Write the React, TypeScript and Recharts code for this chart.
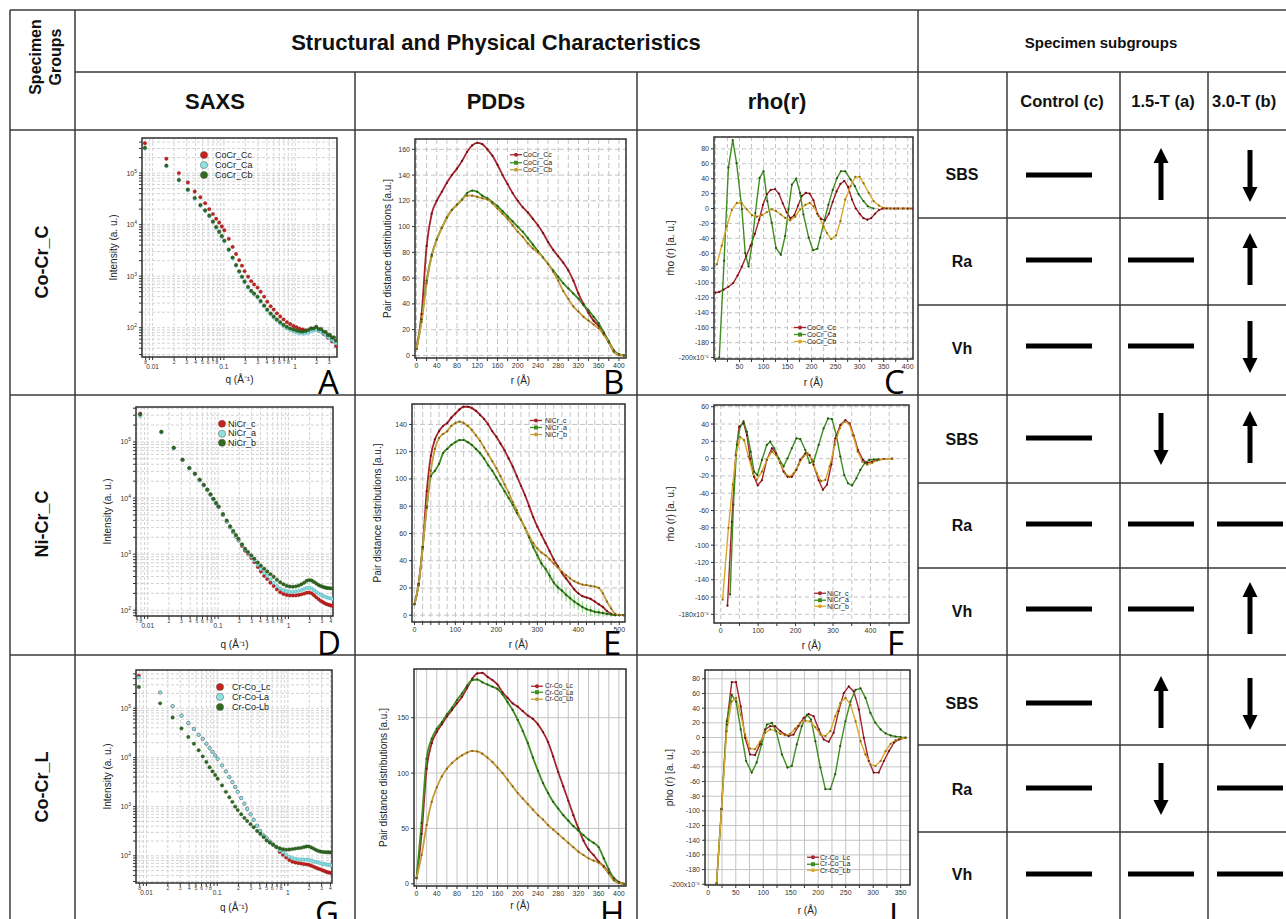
import React from 'react';
import {
  ScatterChart,
  Scatter,
  LineChart,
  Line,
  XAxis,
  YAxis,
  CartesianGrid,
  ReferenceArea,
  ErrorBar,
} from 'recharts';

const FONT = '"Liberation Sans", Arial, Helvetica, sans-serif';
const INK = '#333';

// ---------- table contents ----------
const groupNames = ['Co-Cr_C', 'Ni-Cr_C', 'Co-Cr_L'];
const methodNames = ['SAXS', 'PDDs', 'rho(r)'];
const subgroupNames = ['Control (c)', '1.5-T (a)', '3.0-T (b)'];
const propertyNames = ['SBS', 'Ra', 'Vh'];
// one row per group x property, columns = control, 1.5-T, 3.0-T
const trendRows = [
  ['flat', 'up', 'down'],
  ['flat', 'flat', 'up'],
  ['flat', 'flat', 'down'],
  ['flat', 'down', 'up'],
  ['flat', 'flat', 'flat'],
  ['flat', 'flat', 'up'],
  ['flat', 'up', 'down'],
  ['flat', 'down', 'flat'],
  ['flat', 'flat', 'flat'],
];

// ---------- SAXS (log-log) ----------
const saxsQ = [
  0.0078, 0.0156, 0.0234, 0.0312, 0.039, 0.0468, 0.0546, 0.0624, 0.0702, 0.078,
  0.0858, 0.0936, 0.1014, 0.117, 0.1326, 0.1482, 0.1638, 0.1794, 0.195, 0.2184,
  0.2418, 0.2652, 0.2964, 0.3276, 0.3666, 0.4056, 0.4524, 0.4992, 0.5538, 0.6162,
  0.6864, 0.7644, 0.8502, 0.9438, 1.045, 1.154, 1.271, 1.396, 1.529, 1.67,
  1.818, 1.974, 2.137, 2.309, 2.489, 2.676, 2.871, 3.074, 3.285, 3.504,
  3.73,
];
const saxsQExt = [...saxsQ, 3.96, 4.2];

const coCrCc = [
  380000, 190000, 100000, 66000, 44000, 34000, 26000, 20000, 16000, 13000,
  11000, 9200, 7800, 5300, 3700, 2700, 2050, 1600, 1250, 980,
  800, 690, 600, 500, 400, 320, 260, 225, 190, 165,
  145, 128, 118, 108, 102, 96, 92, 89, 86, 97,
  94, 101, 88, 90, 76, 78, 64, 68, 54, 56,
  44,
];
const coCrCa = [
  300000, 136000, 72000, 46500, 32000, 23300, 18400, 14500, 11100, 8700,
  7100, 5800, 4750, 3200, 2230, 1600, 1210, 950, 765, 600,
  505, 445, 385, 318, 260, 216, 182, 157, 138, 121,
  107, 97, 90, 85, 81, 78, 77, 78, 80, 85,
  90, 91, 88, 83, 78, 72, 66, 62, 58, 54,
  50,
];
const coCrCb = [
  310000, 140000, 74000, 48000, 33000, 24000, 19000, 15000, 11500, 9000,
  7300, 6000, 4900, 3300, 2300, 1650, 1250, 980, 790, 620,
  520, 460, 400, 330, 270, 225, 190, 165, 145, 128,
  114, 104, 97, 92, 88, 85, 84, 86, 90, 96,
  97, 104, 94, 95, 84, 83, 72, 73, 64, 65,
  56,
];

const niCrC = [
  320000, 150000, 78000, 48000, 34000, 27000, 21000, 17000, 14000, 11500,
  9500, 8000, 6900, 5000, 3800, 3000, 2450, 2050, 1750, 1400,
  1150, 1020, 850, 720, 590, 490, 410, 360, 310, 270,
  235, 210, 195, 187, 184, 183, 184, 187, 192, 198,
  205, 207, 200, 185, 170, 158, 147, 140, 133, 128,
  125, 122, 120,
];
const niCrA = [
  290000, 148000, 77000, 47500, 33500, 26500, 20700, 16800, 13800, 11400,
  9450, 8000, 6900, 5000, 3800, 3000, 2470, 2070, 1770, 1450,
  1200, 1060, 900, 770, 640, 540, 460, 410, 355, 310,
  270, 245, 228, 218, 214, 213, 216, 222, 230, 240,
  250, 252, 245, 228, 212, 200, 190, 182, 175, 170,
  166, 163, 160,
];
const niCrB = [
  310000, 152000, 79000, 48500, 34500, 27200, 21300, 17200, 14200, 11700,
  9700, 8200, 7100, 5200, 4000, 3150, 2600, 2200, 1880, 1500,
  1250, 1100, 950, 830, 710, 620, 550, 490, 440, 395,
  350, 315, 290, 272, 265, 262, 266, 275, 290, 310,
  335, 345, 340, 320, 300, 282, 270, 262, 255, 250,
  248, 246, 245,
];

const crCoLc = [
  460000, 210000, 110000, 71000, 50000, 38000, 29000, 24000, 19000, 15500,
  13000, 11000, 9400, 6900, 5200, 4000, 3150, 2500, 2000, 1500,
  1150, 900, 700, 540, 410, 320, 260, 230, 195, 170,
  150, 120, 105, 92, 82, 76, 73, 71, 70, 68,
  67, 66, 63, 60, 57, 55, 53, 51, 49, 47,
  46, 45, 44,
];
const crCoLa = [
  420000, 210000, 110000, 71000, 50000, 38000, 29000, 24000, 19000, 15500,
  13000, 11000, 9400, 6900, 5200, 4000, 3150, 2500, 2000, 1500,
  1150, 900, 700, 540, 410, 320, 260, 230, 195, 170,
  150, 130, 118, 105, 96, 90, 87, 84, 84, 84,
  83, 83, 80, 77, 75, 73, 71, 69, 68, 67,
  66, 65, 64,
];
const crCoLb = [
  270000, 126000, 65000, 39000, 26000, 19000, 14000, 10500, 8100, 6300,
  5200, 4400, 3700, 2700, 2000, 1550, 1250, 1000, 850, 700,
  590, 510, 440, 380, 320, 280, 240, 205, 185, 168,
  152, 142, 136, 133, 134, 137, 140, 143, 145, 150,
  155, 155, 148, 140, 132, 126, 122, 120, 119, 118,
  118, 117, 116,
];

const saxsXTicks = [
  0.007, 0.008, 0.009, 0.01, 0.02, 0.03, 0.04, 0.05, 0.06, 0.07, 0.08, 0.09,
  0.1, 0.2, 0.3, 0.4, 0.5, 0.6, 0.7, 0.8, 0.9, 1, 2, 3, 4,
];
const saxsYTicks = [
  30, 40, 50, 60, 70, 80, 90, 100, 200, 300, 400, 500, 600, 700, 800, 900,
  1000, 2000, 3000, 4000, 5000, 6000, 7000, 8000, 9000,
  10000, 20000, 30000, 40000, 50000, 60000, 70000, 80000, 90000,
  100000, 200000, 300000, 400000, 500000,
];

// ---------- PDDs ----------
const pddR400 = [
  0, 10, 20, 30, 40, 50, 60, 70, 80, 90, 100, 110, 120, 130, 140, 150, 160, 170, 180, 190,
  200, 210, 220, 230, 240, 250, 260, 270, 280, 290, 300, 310, 320, 330, 340, 350, 360, 370,
  380, 390, 400, 410,
];
const pddR500 = [...pddR400, 420, 430, 440, 450, 460, 470, 480, 490, 500, 510];

const pddCoCrCc = [
  5, 32, 85, 110, 120, 127, 134, 140, 145, 151, 158, 163, 165, 164, 160, 155, 148, 140, 133, 126,
  120, 115, 111, 106, 101, 95, 88, 82, 77, 72, 66, 58, 48, 40, 33, 27, 23, 17, 10, 3, 0.5, 0,
];
const pddCoCrCa = [
  5, 28, 58, 78, 90, 99, 107, 113, 117, 121, 126, 128, 127, 124, 122, 119, 116, 112, 108, 104,
  100, 96, 91, 86, 81, 76, 71, 66, 61, 56, 52, 48, 44, 39, 35, 30, 25, 18, 11, 4, 1, 0,
];
const pddCoCrCb = [
  5, 26, 56, 77, 90, 99, 107, 113, 117, 121, 124, 124, 123, 122, 121, 118, 114, 110, 106, 101,
  96, 92, 87, 83, 80, 76, 71, 65, 58, 50, 44, 38, 34, 30, 27, 24, 21, 16, 10, 3, 0.5, 0,
];

const pddNiCrC = [
  8, 23, 50, 91, 117, 129, 135, 139, 141, 145, 148, 151, 153, 153, 152, 150, 147, 144, 140, 135,
  131, 126, 121, 115, 109, 102, 95, 88, 80, 72, 65, 59, 53, 47, 41, 36, 31, 27, 23, 19,
  16, 14, 13, 12, 10, 8, 6, 3, 1, 0, 0, 0,
];
const pddNiCrA = [
  8, 22, 50, 79, 102, 106, 111, 119, 122, 125, 127, 128.5, 128.5, 127, 125, 122, 119, 115, 110, 106,
  101, 96, 91, 86, 81, 75, 70, 64, 57, 50, 44, 38, 34, 29, 24, 20.5, 18, 15, 12.5, 10,
  8, 6, 4.5, 3.5, 2.5, 2, 1.5, 1, 0.5, 0, 0, 0,
];
// spread of the NiCr_a curve (light green band in the picture)
const pddNiCrAErr = [
  0, 0, 0, 0, 0, 0, 0, 0, 0, 0, 0, 0, 0, 0, 0, 0, 0, 0, 0, 0,
  0, 0, 0, 0, 0, 0, 0, 0, 0, 2, 3, 4, 4, 5, 5, 5, 5, 5, 5, 5,
  4.5, 4, 4, 3.5, 3, 3, 2.5, 2, 1.5, 0, 0, 0,
];
const pddNiCrB = [
  8, 22, 49, 80, 106, 122, 130, 133, 135, 139, 141, 142, 141, 139, 136, 132, 128, 123, 118, 113,
  108, 102, 96, 90, 83, 77, 70, 64, 58, 53, 49, 46, 44, 41, 38, 35, 32, 29.5, 27, 25,
  23.5, 22.5, 22, 21.5, 21, 20, 16, 10, 5, 1, 0, 0,
];

const pddCrCoLc = [
  5, 45, 104, 127, 137, 144, 151, 157, 163, 169, 177, 185, 190, 190.5, 187, 184, 180, 173, 168, 163,
  160, 156, 152, 149, 144, 137, 128, 115, 101, 88, 75, 62, 50, 39, 31, 26, 20, 16, 10, 5, 1.5, 0,
];
const pddCrCoLa = [
  5, 55, 113, 131, 140, 146, 153, 159, 166, 172, 179, 184, 184.5, 182, 180, 178, 176, 171, 164, 157,
  148, 138, 127, 114, 102, 91, 82, 74, 68, 62, 57, 52, 48, 44, 40, 37, 33, 23, 13, 5, 1, 0,
];
const pddCrCoLb = [
  5, 26, 53, 74, 87, 97, 104, 109, 113, 116, 118.5, 120, 119.5, 117.5, 114, 110, 105, 100, 94, 88,
  82, 77, 72, 67, 62, 58, 53, 49, 45, 41, 37, 33, 29, 26, 23, 21, 19, 15, 9, 3, 0.5, 0,
];

const pddTicks400 = [0, 20, 40, 60, 80, 100, 120, 140, 160, 180, 200, 220, 240, 260, 280, 300, 320, 340, 360, 380, 400];
const pddTicks500 = [...pddTicks400, 420, 440, 460, 480, 500];
const pddYTicksB = [0, 20, 40, 60, 80, 100, 120, 140, 160];
const pddYTicksE = [0, 20, 40, 60, 80, 100, 120, 140];
const pddYTicksH = [0, 50, 100, 150];

// ---------- rho(r) ----------
const rhoCoCrCcR = [
  0, 8, 17, 27, 37, 46, 55, 64, 73, 82, 91, 99, 107, 115, 124, 132, 140, 148, 156, 164,
  172, 180, 188, 196, 204, 212, 220, 228, 236, 244, 252, 260, 268, 276, 284, 292, 300, 308, 316, 324,
  332, 340, 348, 356, 364, 372, 380, 390, 400, 411,
];
const rhoCoCrCc = [
  -113, -112, -109, -105, -100, -90, -78, -64, -50, -34, -15, 5, 19, 25, 26, 20, 7, -5, -13, -9,
  4, 17, 21, 20, 11, -7, -14, -16, -7, 9, 23, 33, 37, 29, 12, 0, -7, -13, -15, -13,
  -7, -2, 0, 0, 0, 0, 0, 0, 0, 0,
];
const rhoCoCrCaR = [
  8, 18, 27, 36, 44, 55, 62, 69, 76, 83, 92, 100, 108, 117, 126, 136, 145, 152, 159, 168,
  176, 183, 194, 203, 212, 218, 227, 235, 244, 253, 261, 270, 281, 290, 298, 308, 317, 329,
];
const rhoCoCrCa = [
  -200, -70, 55, 92, 61, -1, -60, -78, -48, -6, 41, 50, 10, -19, -53, -62, -37, -1, 32, 40,
  21, -8, -39, -56, -54, -39, -15, 5, 25, 41, 50, 50, 39, 30, 19, 10, 3, 0,
];
const rhoCoCrCbR = [
  3, 13, 23.6, 34, 44.4, 55, 65, 76, 86, 96.5, 107, 117, 126, 136, 145, 155.5, 166, 176, 187, 196,
  204, 214.6, 225, 232, 241, 251, 260, 270, 281, 291, 300, 308, 319, 329, 340, 350, 364, 378, 392, 406,
];
const rhoCoCrCb = [
  -75, -50, -24, -2, 7.5, 7, -1, -9, -11, -9, -5, -1, -3.6, -8, -12.6, -16, -11, -1.4, 5, 7.5,
  3, -10, -24, -33, -41, -36, -17, 12, 30, 42.5, 42.5, 34, 21, 10, 4, 1, 0, 0, 0, 0,
];

const rhoNiCrCR = [
  18, 29.5, 40, 49, 61, 70, 78.6, 89, 99, 110, 123, 136.6, 148, 159, 168, 178.6, 190, 202, 212.5, 226,
  237.5, 248, 261.6, 273, 284, 295.5, 306, 319.6, 333, 344.6, 355, 367, 380, 391, 404.5, 418, 436, 458,
];
const rhoNiCrC = [
  -170, -73, 4, 37, 41, 27, 0, -21, -31, -25, -1.5, 12, 6, -5, -15, -21, -21, -13, -1.5, 6,
  4, -7, -25, -36, -30, -7, 23.5, 39, 44.6, 40.8, 27, 10, -1.5, -5, -3.5, -1.5, -0.4, 0,
];
const rhoNiCrAR = [
  25, 34, 43, 52, 61, 70, 80, 89, 98, 110, 123, 132, 143, 154.5, 168, 178.6, 190, 202, 212.5, 226,
  237.5, 248, 261.6, 275, 286.6, 297, 309, 319.6, 330, 340, 351, 362.5, 373, 385, 397, 409, 422,
];
const rhoNiCrA = [
  -157, -53, 16, 37, 43, 31, 8, -15, -19, -1.5, 15.8, 19.6, 12, 0.4, -9, 0.4, 12, 23.5, 22.7, 10,
  -5, -3.5, 15.8, 35, 46.5, 45.8, 27, 2.3, -19, -28.5, -31, -22.7, -13, -5, -1.5, -0.8, -0.8,
];
const rhoNiCrBR = [
  5, 20.5, 32, 41, 52, 62.5, 74, 86, 96, 110, 123, 136.6, 148, 159, 172, 184, 194.6, 208, 221, 232,
  244, 257, 268, 279.5, 291, 304.5, 318, 330, 342, 353.6, 366, 378.6, 391, 404.5, 418, 436, 458,
];
const rhoNiCrB = [
  -163, -80, -30, 4, 25, 21.5, 2.3, -17, -24.6, -15, -1.5, 8, 4, -5, -17, -21, -17, -7, 2.3, 6,
  -1.5, -17, -26, -24.6, -9, 15.8, 35, 42.7, 40.8, 27, 8, -3.5, -7, -5, -2.3, -0.4, 0,
];

const rhoCrCoLcR = [
  15, 24, 33.5, 42.6, 50.5, 59, 67, 76, 85, 94, 103.5, 112.6, 121.7, 131, 140, 146, 155, 164, 173.5, 182.6,
  191.7, 201, 210, 219, 228, 237, 246.5, 255.6, 264.8, 274, 283, 292, 301, 310, 319.5, 328.7, 337.8, 347, 359,
];
const rhoCrCoLc = [
  -199, -97.5, 17.7, 75.5, 75.5, 42.5, -0.4, -23, -24, -9.4, 11, 15.4, 15.4, 8.6, 4, 1.9, 4, 15.4, 26.7, 32,
  29, 11, -2.7, -5.8, 6.4, 35.7, 60.6, 69.6, 62.8, 38, -0.4, -32, -47.8, -47.8, -32, -18.5, -7, -2.7, -0.4,
];
const rhoCrCoLaR = [
  15, 24, 33.5, 42.6, 50.5, 59, 68.8, 79, 88, 97, 106.5, 115.6, 123.5, 134, 144, 152, 161, 170, 179.5, 187,
  194.8, 204, 213, 222, 231, 240, 249.5, 258.7, 268, 277, 286, 295, 304, 313.5, 322.6, 331.7, 340.8, 350, 359,
];
const rhoCrCoLa = [
  -199, -97.5, 22, 58, 49, 11, -32, -47.8, -34, -9.4, 17.7, 20, 8.6, -23, -41, -38.8, -9.4, 15.4, 31, 24.4,
  -5, -41, -70.4, -70.4, -50, -11.7, 22, 49, 65, 67, 54, 33.5, 20, 11, 5.5, 2.8, 1.4, 0.5, 0,
];
const rhoCrCoLbR = [
  15, 24, 33.5, 42.6, 50.5, 59, 67, 76, 85, 94, 103.5, 112.6, 121.7, 131, 140, 149, 158, 167, 176.5, 185.6,
  194.8, 204, 213, 222, 231, 240, 249.5, 258.7, 268, 277, 286, 295, 304, 313.5, 322.6, 331.7, 340.8, 350, 359,
];
const rhoCrCoLb = [
  -199, -97.5, 8.6, 49, 54, 31, 4, -15, -16, -5.8, 6.4, 11, 9.5, 5, 3, 5, 12, 20, 23, 22,
  14, 4, 1.9, 8.6, 29, 47, 54, 44.8, 22, -5, -23, -36.5, -38.8, -32, -18.5, -8.5, -3.6, -1.3, -0.4,
];

const rhoXTicks400 = [0, 25, 50, 75, 100, 125, 150, 175, 200, 225, 250, 275, 300, 325, 350, 375, 400];
const rhoXTicks450 = [0, 50, 100, 150, 200, 250, 300, 350, 400, 450];
const rhoXTicks350 = [0, 25, 50, 75, 100, 125, 150, 175, 200, 225, 250, 275, 300, 325, 350];
const rhoYTicks200 = [-200, -180, -160, -140, -120, -100, -80, -60, -40, -20, 0, 20, 40, 60, 80];
const rhoYTicks180 = [-180, -160, -140, -120, -100, -80, -60, -40, -20, 0, 20, 40, 60];

// ---------- colours ----------
const RED = { line: '#a5242c', dot: '#6a1015' };
const GREEN = { line: '#3f8d22', dot: '#1f5410' };
const GOLD = { line: '#d9a92c', dot: '#8a6a14' };
const TAN = { line: '#c69c3c', dot: '#7d6018' };
const SAXS_RED = { fill: '#c9201c', stroke: '#7a100e' };
const SAXS_CYAN = { fill: '#8fe2e2', stroke: '#3b9aa6' };
const SAXS_GREEN = { fill: '#2f6a1e', stroke: '#1b4211' };

type Cell = { x: number; y: number; w: number; h: number };
type Box = { l: number; r: number; t: number; b: number };

function layout(cell: Cell, plot: Box) {
  return {
    margin: { top: plot.t - cell.y, right: cell.x + cell.w - plot.r, left: 0, bottom: 0 },
    yW: plot.l - cell.x,
    xH: cell.y + cell.h - plot.b,
  };
}

const LogXTick = (props: any) => {
  const { x, y, payload } = props;
  const v = payload.value as number;
  const e = Math.floor(Math.log10(v) + 1e-9);
  const d = Math.round(v / Math.pow(10, e));
  const major = d === 1;
  const label = major ? String(v) : d <= 8 ? String(d) : '';
  return (
    <text
      x={x}
      y={major ? y + 7 : y + 2}
      textAnchor="middle"
      fontSize={major ? 6.5 : 5}
      fill={INK}
      fontFamily={FONT}
    >
      {label}
    </text>
  );
};

const LogYTick = (props: any) => {
  const { x, y, payload } = props;
  const lg = Math.log10(payload.value);
  const e = Math.round(lg);
  if (Math.abs(lg - e) > 1e-6) return <g />;
  return (
    <text x={x} y={y + 2.5} textAnchor="end" fontSize={7} fill={INK} fontFamily={FONT}>
      10<tspan dy={-3} fontSize={5}>{e}</tspan>
    </text>
  );
};

type LegendItem = { name: string; color: string; marker: string };

function LegendBox({ x, y, rowH, fontSize, items, iconW, gap }: any) {
  return (
    <div
      style={{
        position: 'absolute',
        left: x,
        top: y,
        fontFamily: FONT,
        fontSize,
        color: '#222',
        whiteSpace: 'nowrap',
      }}
    >
      {items.map((it: LegendItem) => (
        <div key={it.name} style={{ display: 'flex', alignItems: 'center', height: rowH }}>
          <svg width={iconW} height={rowH} style={{ marginRight: gap, flexShrink: 0 }}>
            {it.marker === 'big' ? (
              <circle cx={iconW / 2} cy={rowH / 2} r={3.6} fill={it.color} stroke="#555" strokeWidth={0.5} />
            ) : (
              <g>
                <line x1={0} x2={iconW} y1={rowH / 2} y2={rowH / 2} stroke={it.color} strokeWidth={1.3} />
                {it.marker === 'square' ? (
                  <rect x={iconW / 2 - 2} y={rowH / 2 - 2} width={4} height={4} fill={it.color} />
                ) : (
                  <circle cx={iconW / 2} cy={rowH / 2} r={2} fill={it.color} />
                )}
              </g>
            )}
          </svg>
          <span>{it.name}</span>
        </div>
      ))}
    </div>
  );
}

type SaxsSeries = { name: string; q: number[]; v: number[]; fill: string; stroke: string };

function SaxsPanel(p: {
  cell: Cell;
  plot: Box;
  xDomain: [number, number];
  yDomain: [number, number];
  yTitleOffset: number;
  xTitleOffset: number;
  series: SaxsSeries[];
  legend: any;
}) {
  const { margin, yW, xH } = layout(p.cell, p.plot);
  const xt = saxsXTicks.filter((v) => v >= p.xDomain[0] && v <= p.xDomain[1]);
  const yt = saxsYTicks.filter((v) => v >= p.yDomain[0] && v <= p.yDomain[1]);
  return (
    <div style={{ position: 'absolute', left: p.cell.x, top: p.cell.y, width: p.cell.w, height: p.cell.h }}>
      <ScatterChart width={p.cell.w} height={p.cell.h} margin={margin}>
        <CartesianGrid stroke="#d3d3d3" strokeDasharray="3 2" />
        <XAxis
          type="number"
          dataKey="q"
          scale="log"
          domain={p.xDomain}
          allowDataOverflow
          ticks={xt}
          interval={0}
          tick={(t: any) => <LogXTick {...t} />}
          tickSize={3}
          height={xH}
          axisLine={false}
          stroke={INK}
          label={{ value: 'q (Å⁻¹)', position: 'insideBottom', offset: p.xTitleOffset, fontSize: 10, fill: '#222' }}
        />
        <YAxis
          type="number"
          dataKey="I"
          scale="log"
          domain={p.yDomain}
          allowDataOverflow
          ticks={yt}
          interval={0}
          tick={(t: any) => <LogYTick {...t} />}
          tickSize={3}
          width={yW}
          axisLine={false}
          stroke={INK}
          label={{
            value: 'Intensity (a. u.)',
            angle: -90,
            position: 'insideLeft',
            offset: p.yTitleOffset,
            fontSize: 10,
            fill: '#222',
            style: { textAnchor: 'middle' },
          }}
        />
        {p.series.map((s) => (
          <Scatter
            key={s.name}
            name={s.name}
            data={s.q.map((q, i) => ({ q, I: s.v[i] }))}
            isAnimationActive={false}
            shape={(d: any) => (
              <circle cx={d.cx} cy={d.cy} r={1.7} fill={s.fill} stroke={s.stroke} strokeWidth={0.4} />
            )}
          />
        ))}
        <ReferenceArea
          x1={p.xDomain[0]}
          x2={p.xDomain[1]}
          y1={p.yDomain[0]}
          y2={p.yDomain[1]}
          fill="none"
          fillOpacity={0}
          stroke={INK}
          strokeWidth={1.5}
          ifOverflow="visible"
        />
      </ScatterChart>
      <LegendBox
        {...p.legend}
        iconW={10}
        items={p.series.map((s) => ({ name: s.name, color: s.fill, marker: 'big' }))}
      />
    </div>
  );
}

type CurveSeries = {
  name: string;
  r: number[];
  v: number[];
  err?: number[];
  color: string;
  dot: string;
  marker: string;
};

function CurvePanel(p: {
  cell: Cell;
  plot: Box;
  xDomain: [number, number];
  yDomain: [number, number];
  xTicks: number[];
  xLabelStep: number;
  showZero: boolean;
  yTicks: number[];
  yUnitOnFirst: boolean;
  yTitle: string;
  yTitleOffset: number;
  xTitleOffset: number;
  series: CurveSeries[];
  legend: any;
  smooth: boolean;
  strokeW: number;
  gridDash: string;
}) {
  const { margin, yW, xH } = layout(p.cell, p.plot);
  const fmtX = (v: number) => (v % p.xLabelStep === 0 && (p.showZero || v !== 0) ? String(v) : '');
  const fmtY = (v: number) => (p.yUnitOnFirst && v === p.yTicks[0] ? `${v}x10⁻⁶` : String(v));
  return (
    <div style={{ position: 'absolute', left: p.cell.x, top: p.cell.y, width: p.cell.w, height: p.cell.h }}>
      <LineChart width={p.cell.w} height={p.cell.h} margin={margin}>
        <CartesianGrid stroke="#c4c4c4" strokeDasharray={p.gridDash} />
        <XAxis
          type="number"
          dataKey="x"
          domain={p.xDomain}
          allowDataOverflow
          ticks={p.xTicks}
          interval={0}
          tickFormatter={fmtX}
          tick={{ fontSize: 7, fill: INK, fontFamily: FONT }}
          tickSize={3}
          height={xH}
          axisLine={false}
          stroke={INK}
          label={{ value: 'r (Å)', position: 'insideBottom', offset: p.xTitleOffset, fontSize: 10, fill: '#222' }}
        />
        <YAxis
          type="number"
          domain={p.yDomain}
          allowDataOverflow
          ticks={p.yTicks}
          interval={0}
          tickFormatter={fmtY}
          tick={{ fontSize: 7, fill: INK, fontFamily: FONT }}
          tickSize={3}
          width={yW}
          axisLine={false}
          stroke={INK}
          label={{
            value: p.yTitle,
            angle: -90,
            position: 'insideLeft',
            offset: p.yTitleOffset,
            fontSize: 10,
            fill: '#222',
            style: { textAnchor: 'middle' },
          }}
        />
        {p.series.map((s) => (
          <Line
            key={s.name}
            name={s.name}
            data={s.r.map((x, i) => ({ x, y: s.v[i], err: s.err ? s.err[i] : 0 }))}
            dataKey="y"
            type={p.smooth ? 'monotone' : 'linear'}
            stroke={s.color}
            strokeWidth={p.strokeW}
            dot={{ r: 1.1, fill: s.dot, stroke: 'none' }}
            activeDot={false}
            isAnimationActive={false}
          >
            {s.err ? (
              <ErrorBar dataKey="err" direction="y" width={0} stroke="#9fd598" strokeWidth={1.2} />
            ) : null}
          </Line>
        ))}
        <ReferenceArea
          x1={p.xDomain[0]}
          x2={p.xDomain[1]}
          y1={p.yDomain[0]}
          y2={p.yDomain[1]}
          fill="none"
          fillOpacity={0}
          stroke={INK}
          strokeWidth={1.5}
          ifOverflow="visible"
        />
      </LineChart>
      <LegendBox
        {...p.legend}
        iconW={12}
        items={p.series.map((s) => ({ name: s.name, color: s.color, marker: s.marker }))}
      />
    </div>
  );
}

function Trend({ kind, cx, cy }: { kind: string; cx: number; cy: number }) {
  if (kind === 'flat') return <rect x={cx - 33} y={cy - 2.5} width={66} height={5} fill="#000" />;
  const s = kind === 'up' ? -1 : 1;
  const tail = cy - s * 25;
  const base = cy + s * 12;
  return (
    <g fill="#000">
      <rect x={cx - 2.5} y={Math.min(tail, base)} width={5} height={Math.abs(base - tail)} />
      <polygon points={`${cx},${cy + s * 27} ${cx - 7.5},${base} ${cx + 7.5},${base}`} />
    </g>
  );
}

const colLines = [10, 75, 918];
const innerColLines = [355, 637, 1007, 1120, 1208];
const rowLines = [10, 130, 395, 655];
const subRowLines = [218, 305, 483, 568, 745, 832];
const propertyY = [174, 261, 348, 439, 525, 611, 703, 789, 874];
const trendY = [175, 260, 346, 438, 524, 609, 703, 788, 874];
const trendX = [1059, 1161, 1250];
const letters = [
  { t: 'A', x: 318, y: 394 },
  { t: 'B', x: 603, y: 394 },
  { t: 'C', x: 884, y: 394 },
  { t: 'D', x: 317, y: 655 },
  { t: 'E', x: 603, y: 655 },
  { t: 'F', x: 887, y: 655 },
  { t: 'G', x: 315, y: 925 },
  { t: 'H', x: 600, y: 925 },
  { t: 'I', x: 889, y: 927 },
];

function TableFrame() {
  const stroke = '#3a3a3a';
  return (
    <svg width={1286} height={919} style={{ position: 'absolute', left: 0, top: 0 }} fontFamily={FONT}>
      {rowLines.map((y) => (
        <line key={'r' + y} x1={10} x2={1286} y1={y} y2={y} stroke={stroke} strokeWidth={1.5} />
      ))}
      <line x1={75} x2={1286} y1={72} y2={72} stroke={stroke} strokeWidth={1.5} />
      {subRowLines.map((y) => (
        <line key={'s' + y} x1={918} x2={1286} y1={y} y2={y} stroke={stroke} strokeWidth={1.5} />
      ))}
      {colLines.map((x) => (
        <line key={'c' + x} x1={x} x2={x} y1={10} y2={919} stroke={stroke} strokeWidth={1.5} />
      ))}
      {innerColLines.map((x) => (
        <line key={'i' + x} x1={x} x2={x} y1={72} y2={919} stroke={stroke} strokeWidth={1.5} />
      ))}

      <g fontWeight="bold" fill="#111" textAnchor="middle" dominantBaseline="central">
        <text x={35} y={57} fontSize={16} transform="rotate(-90 35 57)">Specimen</text>
        <text x={55} y={57} fontSize={16} transform="rotate(-90 55 57)">Groups</text>
        <text x={496} y={42} fontSize={22}>Structural and Physical Characteristics</text>
        <text x={1101} y={42} fontSize={15}>Specimen subgroups</text>
        {methodNames.map((m, i) => (
          <text key={m} x={[215, 496, 777][i]} y={101} fontSize={22}>{m}</text>
        ))}
        <text x={1062} y={101} fontSize={16.5}>{subgroupNames[0]}</text>
        <text x={1163} y={101} fontSize={16.5}>{subgroupNames[1]}</text>
        <text x={1212} y={101} fontSize={16.5} textAnchor="start">{subgroupNames[2]}</text>
        {groupNames.map((g, i) => {
          const cy = [262, 524, 787][i];
          return (
            <text key={g} x={42} y={cy} fontSize={18} transform={`rotate(-90 42 ${cy})`}>{g}</text>
          );
        })}
        {propertyY.map((y, i) => (
          <text key={'p' + i} x={962} y={y} fontSize={16}>{propertyNames[i % 3]}</text>
        ))}
      </g>

      {trendRows.map((row, i) =>
        row.map((k, j) => <Trend key={`t${i}-${j}`} kind={k} cx={trendX[j]} cy={trendY[i]} />)
      )}

      {letters.map((l) => (
        <text key={l.t} x={l.x} y={l.y} fontSize={33} fontFamily='"Open Sans", "DejaVu Sans", sans-serif' fill="#000">
          {l.t}
        </text>
      ))}
    </svg>
  );
}

export default function App() {
  return (
    <div
      style={{
        position: 'absolute',
        left: 0,
        top: 0,
        width: 1286,
        height: 919,
        overflow: 'hidden',
        background: '#fff',
        fontFamily: FONT,
      }}
    >
      <TableFrame />

      {/* A */}
      <SaxsPanel
        cell={{ x: 75, y: 130, w: 280, h: 265 }}
        plot={{ l: 142, r: 337, t: 138, b: 357 }}
        xDomain={[0.0071, 3.86]}
        yDomain={[27, 480000]}
        yTitleOffset={38}
        xTitleOffset={12}
        legend={{ x: 124, y: 20, rowH: 10, fontSize: 9, gap: 6 }}
        series={[
          { name: 'CoCr_Cc', q: saxsQ, v: coCrCc, ...SAXS_RED },
          { name: 'CoCr_Ca', q: saxsQ, v: coCrCa, ...SAXS_CYAN },
          { name: 'CoCr_Cb', q: saxsQ, v: coCrCb, ...SAXS_GREEN },
        ]}
      />
      {/* D */}
      <SaxsPanel
        cell={{ x: 75, y: 395, w: 280, h: 260 }}
        plot={{ l: 136, r: 333, t: 407, b: 616 }}
        xDomain={[0.0068, 4.3]}
        yDomain={[79, 420000]}
        yTitleOffset={32}
        xTitleOffset={7}
        legend={{ x: 142, y: 24, rowH: 9.5, fontSize: 9, gap: 1 }}
        series={[
          { name: 'NiCr_c', q: saxsQExt, v: niCrC, ...SAXS_RED },
          { name: 'NiCr_a', q: saxsQExt, v: niCrA, ...SAXS_CYAN },
          { name: 'NiCr_b', q: saxsQExt, v: niCrB, ...SAXS_GREEN },
        ]}
      />
      {/* G */}
      <SaxsPanel
        cell={{ x: 75, y: 655, w: 280, h: 264 }}
        plot={{ l: 136, r: 332, t: 670, b: 883 }}
        xDomain={[0.0071, 4.2]}
        yDomain={[28, 600000]}
        yTitleOffset={32}
        xTitleOffset={8}
        legend={{ x: 140, y: 27, rowH: 10, fontSize: 9, gap: 7 }}
        series={[
          { name: 'Cr-Co_Lc', q: saxsQExt, v: crCoLc, ...SAXS_RED },
          { name: 'Cr-Co-La', q: saxsQExt, v: crCoLa, ...SAXS_CYAN },
          { name: 'Cr-Co-Lb', q: saxsQExt, v: crCoLb, ...SAXS_GREEN },
        ]}
      />

      {/* B */}
      <CurvePanel
        cell={{ x: 355, y: 130, w: 282, h: 265 }}
        plot={{ l: 415, r: 626, t: 139, b: 358 }}
        xDomain={[-3, 414]}
        yDomain={[-2, 168]}
        xTicks={pddTicks400}
        xLabelStep={40}
        showZero
        yTicks={pddYTicksB}
        yUnitOnFirst={false}
        yTitle="Pair distance distributions [a.u.]"
        yTitleOffset={32}
        xTitleOffset={11}
        smooth
        strokeW={1.8}
        gridDash="5 3"
        legend={{ x: 155, y: 21, rowH: 7.5, fontSize: 7, gap: 1 }}
        series={[
          { name: 'CoCr_Cc', r: pddR400, v: pddCoCrCc, color: RED.line, dot: RED.dot, marker: 'circle' },
          { name: 'CoCr_Ca', r: pddR400, v: pddCoCrCa, color: GREEN.line, dot: GREEN.dot, marker: 'square' },
          { name: 'CoCr_Cb', r: pddR400, v: pddCoCrCb, color: TAN.line, dot: TAN.dot, marker: 'circle' },
        ]}
      />
      {/* E */}
      <CurvePanel
        cell={{ x: 355, y: 395, w: 282, h: 260 }}
        plot={{ l: 412, r: 625, t: 404, b: 622 }}
        xDomain={[-6, 514]}
        yDomain={[-5, 155]}
        xTicks={pddTicks500}
        xLabelStep={100}
        showZero
        yTicks={pddYTicksE}
        yUnitOnFirst={false}
        yTitle="Pair distance distributions [a.u.]"
        yTitleOffset={22}
        xTitleOffset={7}
        smooth
        strokeW={1.8}
        gridDash="5 3"
        legend={{ x: 175, y: 21.5, rowH: 7, fontSize: 7, gap: 3 }}
        series={[
          { name: 'NiCr_c', r: pddR500, v: pddNiCrC, color: RED.line, dot: RED.dot, marker: 'circle' },
          {
            name: 'NiCr_a',
            r: pddR500,
            v: pddNiCrA,
            err: pddNiCrAErr,
            color: GREEN.line,
            dot: GREEN.dot,
            marker: 'square',
          },
          { name: 'NiCr_b', r: pddR500, v: pddNiCrB, color: TAN.line, dot: TAN.dot, marker: 'circle' },
        ]}
      />
      {/* H */}
      <CurvePanel
        cell={{ x: 355, y: 655, w: 282, h: 264 }}
        plot={{ l: 414, r: 626, t: 669, b: 886 }}
        xDomain={[-5, 414]}
        yDomain={[-2, 194]}
        xTicks={pddTicks400}
        xLabelStep={40}
        showZero
        yTicks={pddYTicksH}
        yUnitOnFirst={false}
        yTitle="Pair distance distributions [a.u.]"
        yTitleOffset={28}
        xTitleOffset={10}
        smooth
        strokeW={1.8}
        gridDash="0"
        legend={{ x: 176, y: 27.5, rowH: 6.5, fontSize: 6.5, gap: 2 }}
        series={[
          { name: 'Cr-Co_Lc', r: pddR400, v: pddCrCoLc, color: RED.line, dot: RED.dot, marker: 'circle' },
          { name: 'Cr-Co_La', r: pddR400, v: pddCrCoLa, color: GREEN.line, dot: GREEN.dot, marker: 'square' },
          { name: 'Cr-Co_Lb', r: pddR400, v: pddCrCoLb, color: TAN.line, dot: TAN.dot, marker: 'circle' },
        ]}
      />

      {/* C */}
      <CurvePanel
        cell={{ x: 637, y: 130, w: 281, h: 265 }}
        plot={{ l: 714, r: 913, t: 137, b: 359 }}
        xDomain={[-3, 411]}
        yDomain={[-202, 96]}
        xTicks={rhoXTicks400}
        xLabelStep={50}
        showZero={false}
        yTicks={rhoYTicks200}
        yUnitOnFirst
        yTitle="rho (r) [a. u.]"
        yTitleOffset={33}
        xTitleOffset={9}
        smooth={false}
        strokeW={1.4}
        gridDash="4 3"
        legend={{ x: 157, y: 193.5, rowH: 7, fontSize: 7, gap: 1 }}
        series={[
          { name: 'CoCr_Cc', r: rhoCoCrCcR, v: rhoCoCrCc, color: RED.line, dot: RED.dot, marker: 'circle' },
          { name: 'CoCr_Ca', r: rhoCoCrCaR, v: rhoCoCrCa, color: GREEN.line, dot: GREEN.dot, marker: 'square' },
          { name: 'CoCr_Cb', r: rhoCoCrCbR, v: rhoCoCrCb, color: GOLD.line, dot: GOLD.dot, marker: 'circle' },
        ]}
      />
      {/* F */}
      <CurvePanel
        cell={{ x: 637, y: 395, w: 281, h: 260 }}
        plot={{ l: 714, r: 909, t: 405, b: 623 }}
        xDomain={[-18, 503]}
        yDomain={[-190, 62]}
        xTicks={rhoXTicks450}
        xLabelStep={100}
        showZero
        yTicks={rhoYTicks180}
        yUnitOnFirst
        yTitle="rho (r) [a. u.]"
        yTitleOffset={33}
        xTitleOffset={6}
        smooth={false}
        strokeW={1.4}
        gridDash="4 3"
        legend={{ x: 177, y: 195, rowH: 6.5, fontSize: 7, gap: 1 }}
        series={[
          { name: 'NiCr_c', r: rhoNiCrCR, v: rhoNiCrC, color: RED.line, dot: RED.dot, marker: 'circle' },
          { name: 'NiCr_a', r: rhoNiCrAR, v: rhoNiCrA, color: GREEN.line, dot: GREEN.dot, marker: 'square' },
          { name: 'NiCr_b', r: rhoNiCrBR, v: rhoNiCrB, color: GOLD.line, dot: GOLD.dot, marker: 'circle' },
        ]}
      />
      {/* I */}
      <CurvePanel
        cell={{ x: 637, y: 655, w: 281, h: 264 }}
        plot={{ l: 705, r: 910, t: 670, b: 885 }}
        xDomain={[-6, 367]}
        yDomain={[-201, 92]}
        xTicks={rhoXTicks350}
        xLabelStep={50}
        showZero
        yTicks={rhoYTicks200}
        yUnitOnFirst
        yTitle="pho (r) [a. u.]"
        yTitleOffset={32}
        xTitleOffset={5}
        smooth={false}
        strokeW={1.4}
        gridDash="0"
        legend={{ x: 170, y: 199, rowH: 6.5, fontSize: 7, gap: 1 }}
        series={[
          { name: 'Cr-Co_Lc', r: rhoCrCoLcR, v: rhoCrCoLc, color: RED.line, dot: RED.dot, marker: 'circle' },
          { name: 'Cr-Co_La', r: rhoCrCoLaR, v: rhoCrCoLa, color: GREEN.line, dot: GREEN.dot, marker: 'square' },
          { name: 'Cr-Co_Lb', r: rhoCrCoLbR, v: rhoCrCoLb, color: GOLD.line, dot: GOLD.dot, marker: 'circle' },
        ]}
      />
    </div>
  );
}
